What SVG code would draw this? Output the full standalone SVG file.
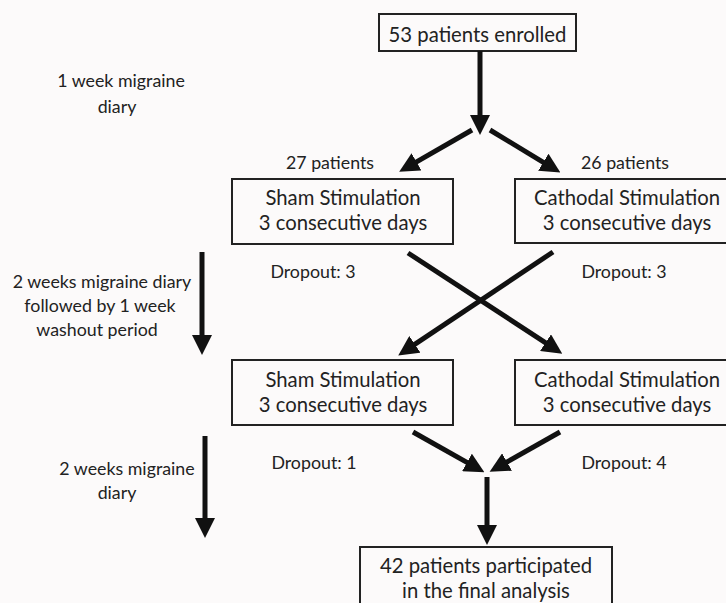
<svg xmlns="http://www.w3.org/2000/svg" width="726" height="603" viewBox="0 0 726 603">
<style>
.bg{fill:#fcfafa}
.box{fill:#fcfafa;stroke:#222;stroke-width:2}
.t{font-family:Lato,"Liberation Sans",sans-serif;fill:#222;text-anchor:middle}
.big{font-size:20.3px}
.sm{font-size:17.8px}
.arr{stroke:#111;stroke-width:5;fill:none;marker-end:url(#ah)}
</style>
<defs>
<marker id="ah" viewBox="0 0 10 10" refX="1" refY="5" markerWidth="4" markerHeight="4" markerUnits="strokeWidth" orient="auto">
<path d="M0,0 L10,5 L0,10 z" fill="#111"/>
</marker>
</defs>
<rect class="bg" x="0" y="0" width="726" height="603"/>

<g id="enrolled">
<rect class="box" x="379" y="14" width="197" height="37"/>
<text class="t big" x="477.5" y="42">53 patients enrolled</text>
</g>

<g id="sham1">
<rect class="box" x="232" y="179" width="221" height="65"/>
<text class="t big" x="343" y="205">Sham Stimulation</text>
<text class="t big" x="343" y="230">3 consecutive days</text>
</g>

<g id="cathodal1">
<rect class="box" x="515" y="179" width="220" height="64"/>
<text class="t big" x="627" y="205">Cathodal Stimulation</text>
<text class="t big" x="627" y="230">3 consecutive days</text>
</g>

<g id="sham2">
<rect class="box" x="232" y="360" width="221" height="65"/>
<text class="t big" x="343" y="387">Sham Stimulation</text>
<text class="t big" x="343" y="412">3 consecutive days</text>
</g>

<g id="cathodal2">
<rect class="box" x="515" y="360" width="220" height="65"/>
<text class="t big" x="627" y="387">Cathodal Stimulation</text>
<text class="t big" x="627" y="412">3 consecutive days</text>
</g>

<g id="final">
<rect class="box" x="360" y="547" width="252" height="70"/>
<text class="t big" x="486" y="573">42 patients participated</text>
<text class="t big" x="486" y="598">in the final analysis</text>
</g>

<g id="labels">
<text class="t sm" x="330" y="169">27 patients</text>
<text class="t sm" x="625" y="169">26 patients</text>
<text class="t sm" x="313" y="278">Dropout: 3</text>
<text class="t sm" x="624" y="278">Dropout: 3</text>
<text class="t sm" x="314" y="469">Dropout: 1</text>
<text class="t sm" x="624" y="469">Dropout: 4</text>
<text class="t sm" x="121" y="87">1 week migraine</text>
<text class="t sm" x="117" y="113">diary</text>
<text class="t sm" x="102" y="288">2 weeks migraine diary</text>
<text class="t sm" x="100" y="312">followed by 1 week</text>
<text class="t sm" x="97" y="336">washout period</text>
<text class="t sm" x="127" y="475">2 weeks migraine</text>
<text class="t sm" x="117" y="499">diary</text>
</g>

<g id="connectors">
<line class="arr" x1="480" y1="51" x2="480" y2="117"/>
<line class="arr" x1="472" y1="130" x2="414.8" y2="162.9"/>
<line class="arr" x1="490" y1="130" x2="545" y2="163.3"/>
<line class="arr" x1="408" y1="253" x2="547.2" y2="343.8"/>
<line class="arr" x1="553" y1="252" x2="413.2" y2="345.4"/>
<line class="arr" x1="413" y1="432" x2="468.7" y2="463.4"/>
<line class="arr" x1="560" y1="432" x2="505.3" y2="463"/>
<line class="arr" x1="487" y1="477" x2="487" y2="527"/>
<line class="arr" x1="202" y1="252" x2="202" y2="337"/>
<line class="arr" x1="205" y1="436" x2="205" y2="520"/>
</g>
</svg>
